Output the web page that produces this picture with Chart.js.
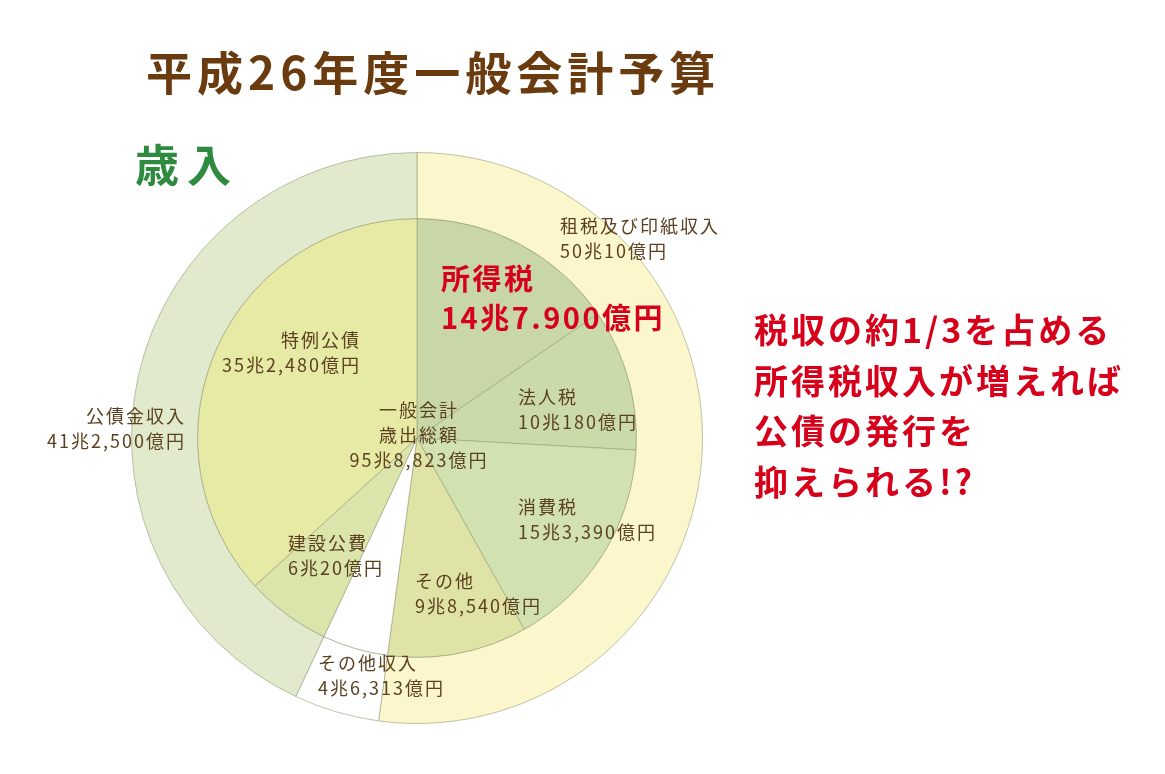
<!DOCTYPE html>
<html lang="ja">
<head>
<meta charset="utf-8">
<script src="https://cdn.jsdelivr.net/npm/chart.js@4.4.1/dist/chart.umd.min.js"></script>
<style>
  body { margin: 0; width: 1165px; height: 774px; background: #fff; position: relative; overflow: hidden;
         font-family: "Noto Sans CJK JP", sans-serif; }
  #title { position: absolute; left: 146px; top: 40px; font-size: 46px; font-weight: bold; color: #6b3b10;
           letter-spacing: 5px; line-height: 60px; white-space: nowrap; }
  #sub { position: absolute; left: 135px; top: 137px; font-size: 44px; font-weight: bold; color: #2d8a3e;
         letter-spacing: 8px; line-height: 52px; }
  #note { position: absolute; left: 754px; top: 304px; font-size: 34px; font-weight: bold; color: #d7001b;
          letter-spacing: 3px; line-height: 50.5px; white-space: nowrap; }
  #chart { position: absolute; left: 0; top: 0; }
</style>
</head>
<body>
<canvas id="chart" width="1165" height="774"></canvas>
<div id="title">平成26年度一般会計予算</div>
<div id="sub">歳入</div>
<div id="note">税収の約1/3を占める<br>所得税収入が増えれば<br>公債の発行を<br>抑えられる!?</div>
<script>
// 平成26年度 一般会計歳入（兆円）
const outerNames = ['租税及び印紙収入', 'その他収入', '公債金収入'];
const outerValues = [50.0010, 4.6313, 41.2500];
const outerAmounts = ['50兆10億円', '4兆6,313億円', '41兆2,500億円'];

const innerNames = ['所得税', '法人税', '消費税', 'その他', 'その他収入', '建設公費', '特例公債'];
const innerValues = [14.7900, 10.0180, 15.3390, 9.8540, 4.6313, 6.0020, 35.2480];
const innerAmounts = ['14兆7.900億円', '10兆180億円', '15兆3,390億円', '9兆8,540億円', '4兆6,313億円', '6兆20億円', '35兆2,480億円'];

const totalText = ['一般会計', '歳出総額', '95兆8,823億円'];

const outerColors = ['#fbf6cb', '#ffffff', '#e2eacd'];
const innerColors = ['#c8d7a5', '#cbdaa9', '#d2e1b0', '#dfe4a6', '#ffffff', '#dbe4ab', '#e7eaa5'];

// label placement, relative to the pie centre
const labelLayout = [
    { ds: 0, i: 0, dx: 143, dy: -212, align: 'left' },
    { ds: 0, i: 1, dx: -99, dy: 225, align: 'left' },
    { ds: 0, i: 2, dx: -231, dy: -22, align: 'right' },
    { ds: 1, i: 0, dx: 24, dy: -159, align: 'left', big: true },
    { ds: 1, i: 1, dx: 101, dy: -41, align: 'left' },
    { ds: 1, i: 2, dx: 101, dy: 69, align: 'left' },
    { ds: 1, i: 3, dx: -2, dy: 143, align: 'left' },
    { ds: 1, i: 5, dx: -129, dy: 105, align: 'left' },
    { ds: 1, i: 6, dx: -56, dy: -98, align: 'right' }
];

const labelPlugin = {
    id: 'sliceLabels',
    afterDatasetsDraw(chart) {
        const ctx = chart.ctx;
        const arc = chart.getDatasetMeta(0).data[0];
        const cx = arc.x, cy = arc.y;
        ctx.save();
        ctx.textBaseline = 'middle';
        labelLayout.forEach(l => {
            const set = chart.data.datasets[l.ds];
            ctx.textAlign = l.align;
            if (l.big) {
                ctx.font = 'bold 29px "Noto Sans CJK JP"';
                ctx.fillStyle = '#d7001b';
                ctx.letterSpacing = '2.5px';
                ctx.fillText(set.names[l.i], cx + l.dx, cy + l.dy);
                ctx.fillText(set.amounts[l.i], cx + l.dx, cy + l.dy + 39);
            } else {
                ctx.font = '18px "Noto Sans CJK JP"';
                ctx.fillStyle = '#5b4120';
                ctx.letterSpacing = '2px';
                ctx.fillText(set.names[l.i], cx + l.dx, cy + l.dy);
                ctx.fillText(set.amounts[l.i], cx + l.dx, cy + l.dy + 25);
            }
        });
        ctx.textAlign = 'center';
        ctx.font = '18px "Noto Sans CJK JP"';
        ctx.fillStyle = '#5b4120';
        ctx.letterSpacing = '2px';
        totalText.forEach((t, k) => ctx.fillText(t, cx + 2, cy - 28 + k * 25));
        ctx.restore();
    }
};

new Chart(document.getElementById('chart'), {
    type: 'doughnut',
    data: {
        labels: innerNames,
        datasets: [
            {
                data: outerValues,
                names: outerNames,
                amounts: outerAmounts,
                backgroundColor: outerColors,
                borderColor: 'rgba(150,156,120,0.6)',
                borderWidth: 1,
                weight: 66
            },
            {
                data: innerValues,
                names: innerNames,
                amounts: innerAmounts,
                backgroundColor: innerColors,
                borderColor: 'rgba(150,156,120,0.6)',
                borderWidth: 1,
                weight: 219.5
            }
        ]
    },
    options: {
        responsive: false,
        animation: false,
        cutout: 0,
        layout: { padding: { left: 131, top: 152, right: 462, bottom: 50 } },
        plugins: { legend: { display: false }, tooltip: { enabled: false } }
    },
    plugins: [labelPlugin]
});
</script>
</body>
</html>
